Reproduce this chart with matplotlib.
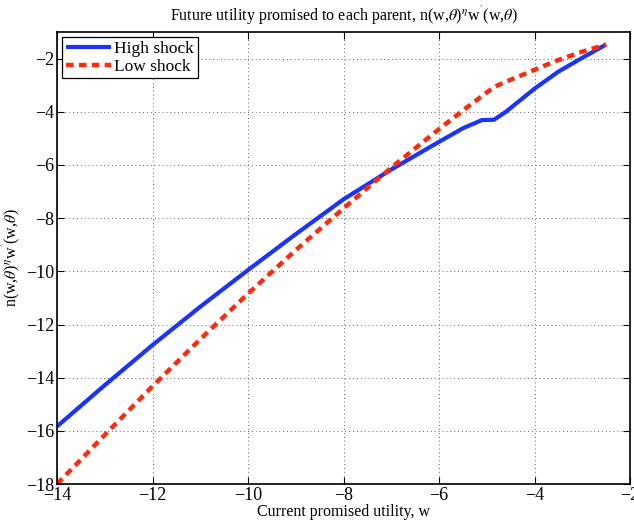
import matplotlib
matplotlib.use("Agg")
import matplotlib.pyplot as plt

# Data
w_high = [-14, -13, -12, -11, -10, -9, -8, -7, -6, -5.5, -5.1, -4.85, -4.6, -4, -3.5, -3, -2.5]
v_high = [-15.83, -14.28, -12.77, -11.33, -9.95, -8.6, -7.29, -6.17, -5.13, -4.62, -4.31, -4.30, -4.0, -3.13, -2.49, -1.97, -1.47]

w_low = [-14, -13, -12, -11, -10, -9, -8, -7, -6, -5.5, -5, -4.83, -4.4, -4, -3.5, -3, -2.5]
v_low = [-18.0, -16.15, -14.32, -12.55, -10.84, -9.2, -7.63, -6.1, -4.65, -3.95, -3.27, -3.05, -2.72, -2.42, -2.05, -1.74, -1.47]

xticks = [-14, -12, -10, -8, -6, -4, -2]
yticks = [-18, -16, -14, -12, -10, -8, -6, -4, -2]

plt.rcParams['font.family'] = ['Liberation Serif', 'DejaVu Serif']
plt.rcParams['mathtext.fontset'] = 'stix'

fig = plt.figure(figsize=(6.34, 5.25), dpi=100)
ax = fig.add_axes([0.09, 0.078, 0.9037, 0.861])

ax.plot(w_high, v_high, color='#1a33ff', lw=3.0, label='High shock', solid_capstyle='butt',
        solid_joinstyle='round')
ax.plot(w_low, v_low, color='#ff2a0a', lw=3.2, ls=(0, (1.7, 1.2)), label='Low shock')

ax.set_xlim(-14, -2)
ax.set_ylim(-18, -1)
ax.set_xticks(xticks)
ax.set_yticks(yticks)
ax.set_xticklabels([f"\u2212{abs(t)}" for t in xticks])
ax.set_yticklabels([f"\u2212{abs(t)}" for t in yticks])
ax.tick_params(direction='in', top=True, right=True, labelsize=13, length=5, width=0.8, pad=2)
ax.grid(True, ls=(0, (1, 3)), color='#666666', lw=0.7)
for s in ax.spines.values():
    s.set_linewidth(1.2)

ax.set_title(r"Future utility promised to each parent, n(w,$\theta$)$^{\eta}$w$^{'}$(w,$\theta$)", fontsize=11.5, pad=8)
ax.set_xlabel("Current promised utility, w", fontsize=11.5, labelpad=0)
ax.set_ylabel(r"n(w,$\theta$)$^{\eta}$w$^{'}$(w,$\theta$)", fontsize=11.5, labelpad=2)

leg = ax.legend(loc='upper left', fontsize=12.5, fancybox=False, framealpha=1,
                edgecolor='black', borderpad=0.2, labelspacing=0.1,
                handlelength=2.6, handletextpad=0.2, borderaxespad=0.3)
leg.get_frame().set_linewidth(0.9)

fig.savefig("out.png", dpi=100)
